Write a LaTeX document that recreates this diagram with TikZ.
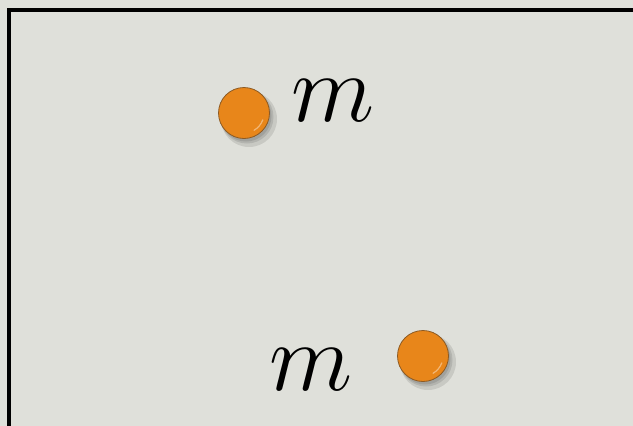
\documentclass[tikz,border=0pt]{standalone}
\usepackage{amsmath}
\usepackage{amssymb}
\usepackage{tikz}
\definecolor{paper}{RGB}{223,224,218}
\definecolor{ballorange}{RGB}{232,134,26}
\definecolor{balledge}{RGB}{140,90,35}
\tikzset{
  ball/.style={fill=ballorange, draw=balledge, line width=0.8pt},
  ballshadow/.style={fill=black, opacity=0.1},
  shine/.style={white, opacity=0.4, line width=1.2pt, line cap=round},
  masslabel/.style={font=\Huge, scale=3.9, inner sep=0pt}
}

\begin{document}
\begin{tikzpicture}[x=1pt,y=-1pt]
  \fill[paper] (0,0) rectangle (633,426);
  \useasboundingbox (0,0) rectangle (633,426);
  \draw[line width=4pt] (8.5,445) -- (8.5,9.5) -- (650,9.5);
  \coordinate (B1) at (244,113);
  \coordinate (B2) at (423,356);
  \foreach \b in {B1,B2} {
    \fill[ballshadow] ([shift={(5,6)}]\b) circle (28);
    \fill[ballshadow] ([shift={(3,4)}]\b) circle (26.5);
    \fill[ballshadow] ([shift={(2,3)}]\b) circle (25.5);
    \draw[ball] (\b) circle (25.5);
    \draw[shine] ([shift={(20:20)}]\b) arc (20:60:20);
  }
  \node[masslabel] (m1) at (333,101) {$m$};
  \node[masslabel] (m2) at (311,370) {$m$};
\end{tikzpicture}
\end{document}
